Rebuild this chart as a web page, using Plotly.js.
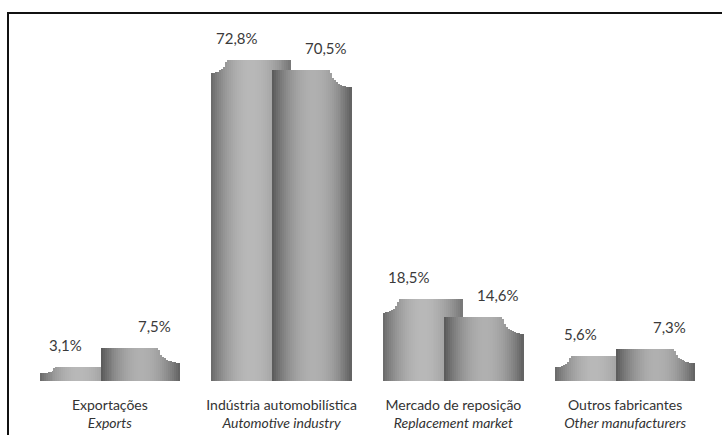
<!DOCTYPE html>
<html>
<head>
<meta charset="utf-8">
<script src="https://cdn.plot.ly/plotly-3.0.1.min.js"></script>
<style>
  html, body { margin: 0; padding: 0; background: #fff; }
  #wrap { position: relative; width: 722px; height: 435px; overflow: hidden; }
  #frame { position: absolute; left: 7px; top: 12px; width: 800px; height: 500px;
           border-left: 2px solid #111; border-top: 2px solid #111; pointer-events: none; }
  #chart { position: absolute; left: 0; top: 0; width: 722px; height: 435px; }
</style>
</head>
<body>
<div id="wrap">
  <div id="chart"></div>
  <div id="frame"></div>
</div>
<script>
// ---- data ----
const categoriesPT = ["Exportações", "Indústria automobilística", "Mercado de reposição", "Outros fabricantes"];
const categoriesEN = ["Exports", "Automotive industry", "Replacement market", "Other manufacturers"];
const seriesA = [3.1, 72.8, 18.5, 5.6];   // first (left) bar of each pair
const seriesB = [7.5, 70.5, 14.6, 7.3];   // second (right) bar of each pair

// ---- style constants ----
const FONT = "Lato, 'Liberation Sans', sans-serif";
const PX_PER_UNIT = 171.75;           // px per category step
const BAR_L = -0.4074, BAR_R = 0.0524; // bar A extent around category centre
const N = 40;                          // gradient strips per bar

function fmt(v) { return v.toFixed(1).replace('.', ',') + '%'; }

function grayAt(t, edgeL, peak, edgeR, tp) {
  let g;
  if (t < tp) { const u = (tp - t) / tp; g = peak + (edgeL - peak) * u * u; }
  else { const u = (t - tp) / (1 - tp); g = peak + (edgeR - peak) * u * u; }
  g = Math.round(g);
  return `rgb(${g},${g},${g})`;
}

// build strip traces for one series
function stripTraces(values, x0, x1, notchSide, rx, ryMax, shades) {
  const traces = [];
  const w = (x1 - x0) / N;
  for (let k = 0; k < N; k++) {
    const t = (k + 0.5) / N;
    const xc = x0 + (k + 0.5) * w;
    const d = notchSide === 'left' ? (xc - x0) : (x1 - xc);
    const ys = values.map(v => {
      const ry = Math.min(ryMax, 0.45 * v);
      if (d < rx) {
        const q = d / rx;
        return v - ry * Math.sqrt(1 - q * q);
      }
      return v;
    });
    traces.push({
      type: 'bar',
      x: values.map((_, i) => i),
      y: ys,
      base: 0,
      width: w * 1.25,
      offset: x0 + k * w - w * 0.125,
      marker: { color: grayAt(t, shades[0], shades[1], shades[2], shades[3]), line: { width: 0 } },
      hoverinfo: 'skip',
      showlegend: false
    });
  }
  return traces;
}

const tracesA = stripTraces(seriesA, BAR_L, BAR_R, 'left', 15 / PX_PER_UNIT, 3.0, [104, 184, 118, 0.5]);
const tracesB = stripTraces(seriesB, -BAR_R, -BAR_L, 'right', 21 / PX_PER_UNIT, 3.9, [88, 176, 96, 0.52]);

const labelOff = (BAR_L + BAR_R) / 2 - 14 / PX_PER_UNIT;
const annotations = [];
seriesA.forEach((v, i) => annotations.push({
  x: i + labelOff, y: v, xref: 'x', yref: 'y', text: fmt(v), showarrow: false,
  yshift: 22, yanchor: 'middle', xanchor: 'center',
  font: { family: FONT, size: 15, color: '#3a3a3a' }
}));
seriesB.forEach((v, i) => annotations.push({
  x: i - labelOff, y: v, xref: 'x', yref: 'y', text: fmt(v), showarrow: false,
  yshift: 22, yanchor: 'middle', xanchor: 'center',
  font: { family: FONT, size: 15, color: '#3a3a3a' }
}));

const layout = {
  width: 722, height: 435,
  margin: { l: 24, r: 11, t: 21, b: 54 },
  paper_bgcolor: 'rgba(0,0,0,0)', plot_bgcolor: 'rgba(0,0,0,0)',
  barmode: 'overlay', bargap: 0,
  showlegend: false,
  xaxis: {
    range: [-0.5, 3.5], tickmode: 'array',
    tickvals: categoriesPT.map((_, i) => i),
    ticktext: categoriesPT.map((c, i) => c + '<br><i>' + categoriesEN[i] + '</i>'),
    showgrid: false, zeroline: false, showline: false, ticks: '',
    ticklabelstandoff: 14,
    tickfont: { family: FONT, size: 14, color: '#333' },
    fixedrange: true
  },
  yaxis: { range: [0, 81.6], visible: false, fixedrange: true, showgrid: false, zeroline: false },
  annotations: annotations,
  font: { family: FONT }
};

Plotly.newPlot('chart', tracesA.concat(tracesB), layout, { displayModeBar: false, staticPlot: true });
</script>
</body>
</html>
